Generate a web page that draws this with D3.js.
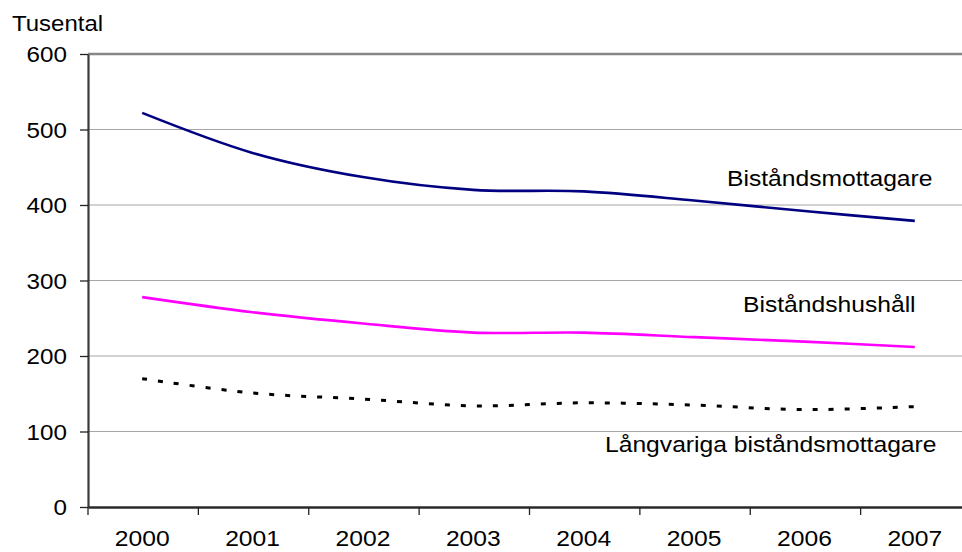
<!DOCTYPE html>
<html>
<head>
<meta charset="utf-8">
<script src="https://cdn.jsdelivr.net/npm/d3@7/dist/d3.min.js"></script>
<style>
  html, body { margin: 0; padding: 0; background: #fff; }
  svg { display: block; font-family: "Liberation Sans", Arial, sans-serif; }
</style>
</head>
<body>
<svg id="chart" width="962" height="552"></svg>
<script>
const years = ["2000","2001","2002","2003","2004","2005","2006","2007"];
const mottagare = [522, 469, 437, 420, 418, 406, 392, 379];
const hushall = [278, 258, 243, 231, 231, 225, 219, 212];
const langvariga = [170, 151, 143, 134, 138, 135, 129, 133];
const yTicks = [0, 100, 200, 300, 400, 500, 600];
const seriesNames = ["Biståndsmottagare", "Biståndshushåll", "Långvariga biståndsmottagare"];
const yTitle = "Tusental";

const svg = d3.select("#chart");
const mLeft = 88, mRight = 971, mTop = 54, mBottom = 507;

const x = d3.scaleBand().domain(years).range([mLeft, mRight]).paddingInner(0).paddingOuter(0);
const y = d3.scaleLinear().domain([0, 600]).range([mBottom, mTop]);
const cx = d => x(d) + x.bandwidth() / 2 - 1;

function stretch(sel, k) {
  sel.each(function () {
    const w = this.getComputedTextLength();
    d3.select(this).attr("textLength", w * k).attr("lengthAdjust", "spacingAndGlyphs");
  });
}

// gridlines
svg.append("g").selectAll("line").data(yTicks.filter(v => v > 0 && v < 600)).join("line")
  .attr("x1", mLeft).attr("x2", 962).attr("y1", d => y(d)).attr("y2", d => y(d))
  .attr("stroke", "#a6a6a6").attr("stroke-width", 1.2);
// top border
svg.append("line").attr("x1", mLeft).attr("x2", 962).attr("y1", y(600)).attr("y2", y(600))
  .attr("stroke", "#878787").attr("stroke-width", 2.5);

// y axis
const gy = svg.append("g").attr("transform", `translate(${mLeft},0)`)
  .call(d3.axisLeft(y).tickValues(yTicks).tickSize(8).tickPadding(13).tickSizeOuter(0));
gy.select(".domain").attr("stroke", "#3a3a3a").attr("stroke-width", 2.2);
gy.selectAll(".tick line").attr("stroke", "#222").attr("stroke-width", 1.3);
gy.selectAll(".tick text").attr("font-size", 22).attr("fill", "#000")
  .attr("font-family", "'Liberation Sans', Arial, sans-serif").attr("dy", "0.36em");
stretch(gy.selectAll(".tick text"), 1.1);

// x axis
const gx = svg.append("g").attr("transform", `translate(0,${mBottom})`)
  .call(d3.axisBottom(x).tickSize(0).tickPadding(23).tickSizeOuter(0));
gx.select(".domain").attr("stroke", "#2a2a2a").attr("stroke-width", 2.4);
gx.selectAll(".tick text").attr("font-size", 22).attr("fill", "#000")
  .attr("font-family", "'Liberation Sans', Arial, sans-serif")
  .attr("transform", "translate(-1,0)");
stretch(gx.selectAll(".tick text"), 1.12);
gx.selectAll(".tick").append("line")
  .attr("x1", -x.bandwidth() / 2).attr("x2", -x.bandwidth() / 2)
  .attr("y1", 0).attr("y2", 8).attr("stroke", "#222").attr("stroke-width", 1.3);
gx.append("line").attr("x1", mRight).attr("x2", mRight).attr("y1", 0).attr("y2", 8)
  .attr("stroke", "#222").attr("stroke-width", 1.3);

// lines
const line = d3.line().x((d, i) => cx(years[i])).y(d => y(d)).curve(d3.curveCardinal.tension(0));
svg.append("path").datum(mottagare).attr("d", line)
  .attr("fill", "none").attr("stroke", "#000080").attr("stroke-width", 2.6);
svg.append("path").datum(hushall).attr("d", line)
  .attr("fill", "none").attr("stroke", "#ff00ff").attr("stroke-width", 2.6);
svg.append("path").datum(langvariga).attr("d", line)
  .attr("fill", "none").attr("stroke", "#000").attr("stroke-width", 3)
  .attr("stroke-dasharray", "5,11");

// series labels
const labels = [
  { t: seriesNames[0], x: 727, y: 186 },
  { t: seriesNames[1], x: 743, y: 312 },
  { t: seriesNames[2], x: 605, y: 452 }
];
const lab = svg.append("g").selectAll("text").data(labels).join("text")
  .attr("x", d => d.x).attr("y", d => d.y).attr("font-size", 22).attr("fill", "#000")
  .text(d => d.t);
stretch(lab, 1.12);

// y title
const tt = svg.append("text").attr("x", 12).attr("y", 31).attr("font-size", 22).attr("fill", "#000").text(yTitle);
stretch(tt, 1.09);
</script>
</body>
</html>
